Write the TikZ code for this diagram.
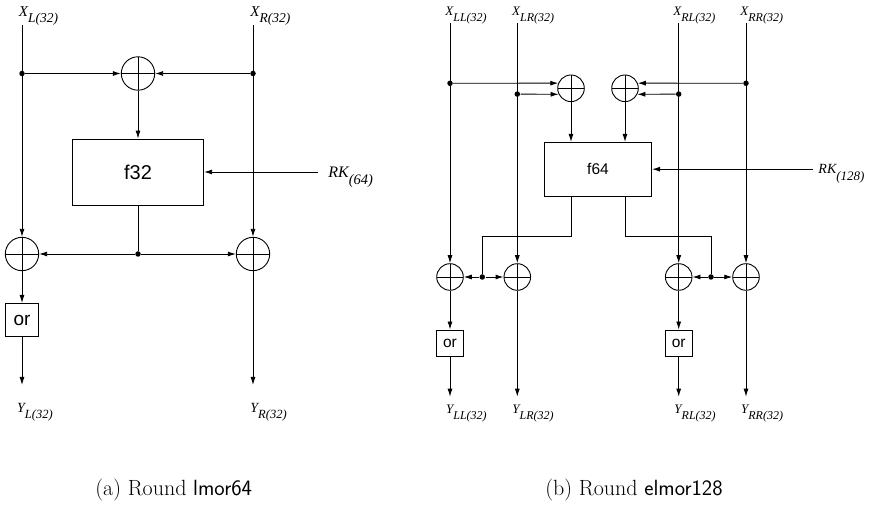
\documentclass[tikz,border=0pt]{standalone}
\usepackage{fontspec}
\newfontfamily\lblfont{Liberation Serif}
\newfontfamily\boxfont{Liberation Sans}
\usetikzlibrary{arrows.meta,calc}
\newcommand\mylab[5]{{\lblfont\itshape\fontsize{#3}{#3}\selectfont #1\raisebox{-#5}{\fontsize{#4}{#4}\selectfont #2}}}
\begin{document}
\begin{tikzpicture}[x=1pt,y=-1pt,line width=0.9pt,
  arr/.style={-{Latex[length=8pt,width=5pt]}},
  xorbase/.style={circle,draw,inner sep=0pt,
    path picture={\draw[line width=0.8pt] (path picture bounding box.north) -- (path picture bounding box.south)
      (path picture bounding box.west) -- (path picture bounding box.east);}},
  xorA/.style={xorbase,minimum size=33.4pt},
  xorB/.style={xorbase,minimum size=26.6pt},
  dotn/.style={circle,fill,inner sep=0pt,minimum size=5.5pt},
  fbox/.style={draw,line width=0.8pt,inner sep=0pt,font=\boxfont},
  lbl/.style={inner sep=0pt,anchor=base west},
  captext/.style={inner sep=0pt,anchor=base west,font=\fontsize{22}{22}\selectfont}]
\useasboundingbox (0,0) rectangle (871,510);
% ---------------- (a) ----------------
\node[lbl] (xl) at (18.5,16.7) {\mylab{X}{L(32)}{15}{13.5}{6pt}};
\node[lbl] (xr) at (250,16.7) {\mylab{X}{R(32)}{15}{13.5}{6pt}};
\coordinate (inL) at (22,25);
\coordinate (inR) at (253,25);
\node[xorA] (t) at (138,73.5) {};
\node[dotn] (dl) at (22,73.5) {};
\node[dotn] (dr) at (253,73.5) {};
\node[fbox,minimum width=131.5pt,minimum height=66pt,font=\boxfont\fontsize{20}{20}\selectfont] (f) at (138,172) {f32};
\coordinate (rk) at (318,172);
\node[lbl] (rkl) at (328,178) {\mylab{RK}{(64)}{16}{14.5}{7pt}};
\node[xorA] (bl) at (22,254) {};
\node[xorA] (br) at (253,254) {};
\node[dotn] (dm) at (138,254) {};
\node[fbox,minimum width=33.3pt,minimum height=33.3pt,font=\boxfont\fontsize{19}{19}\selectfont] (orl) at (22,320) {or};
\coordinate (outL) at (22,385);
\coordinate (outR) at (253,385);
\node[lbl] (yl) at (16.7,412.7) {\mylab{Y}{L(32)}{14}{12.5}{6pt}};
\node[lbl] (yr) at (250,412.7) {\mylab{Y}{R(32)}{14}{12.5}{6pt}};
\draw[arr] (inL) -- (bl);
\draw[arr] (inR) -- (br);
\draw[arr] (dl) -- (t);
\draw[arr] (dr) -- (t);
\draw[arr] (t) -- (f);
\draw[arr] (rk) -- (rk -| f.east);
\draw (f) -- (dm);
\draw[arr] (dm) -- (bl);
\draw[arr] (dm) -- (br);
\draw[arr] (bl) -- (orl);
\draw[arr] (orl) -- (outL);
\draw[arr] (br) -- (outR);
% ---------------- (b) ----------------
\node[lbl] (xll) at (445,15.7) {\mylab{X}{LL(32)}{13}{12}{6pt}};
\node[lbl] (xlr) at (511.7,15.7) {\mylab{X}{LR(32)}{13}{12}{6pt}};
\node[lbl] (xrl) at (673,15.7) {\mylab{X}{RL(32)}{13}{12}{6pt}};
\node[lbl] (xrr) at (740,15.7) {\mylab{X}{RR(32)}{13}{12}{6pt}};
\coordinate (inLL) at (450,23);
\coordinate (inLR) at (517.3,23);
\coordinate (inRL) at (678.7,23);
\coordinate (inRR) at (746,23);
\node[xorB] (tl) at (571,88.3) {};
\node[xorB] (tr) at (625,88.3) {};
\node[dotn] (d1) at (450,83.3) {};
\node[dotn] (d2) at (517.3,94.1) {};
\node[dotn] (d3) at (678.7,94.1) {};
\node[dotn] (d4) at (746,83.3) {};
\node[fbox,minimum width=107.4pt,minimum height=53.7pt,font=\boxfont\fontsize{15.5}{15.5}\selectfont] (g) at (598,169.2) {f64};
\coordinate (rk2) at (813,169.2);
\node[lbl] (rkl2) at (818,174) {\mylab{RK}{(128)}{14}{13}{7pt}};
\node[xorB] (bLL) at (450,277) {};
\node[xorB] (bLR) at (517.3,277) {};
\node[xorB] (bRL) at (678.7,277) {};
\node[xorB] (bRR) at (746,277) {};
\node[dotn] (e1) at (482.3,277) {};
\node[dotn] (e2) at (711,277) {};
\node[fbox,minimum width=27.3pt,minimum height=26.7pt,font=\boxfont\fontsize{15.5}{15.5}\selectfont] (or1) at (450,343.3) {or};
\node[fbox,minimum width=27.3pt,minimum height=26.7pt,font=\boxfont\fontsize{15.5}{15.5}\selectfont] (or2) at (678.7,343.3) {or};
\coordinate (oLL) at (450,396.7);
\coordinate (oLR) at (517.3,396.7);
\coordinate (oRL) at (678.7,396.7);
\coordinate (oRR) at (746,396.7);
\node[lbl] (yll) at (445.7,414) {\mylab{Y}{LL(32)}{13}{12}{6pt}};
\node[lbl] (ylr) at (512,414) {\mylab{Y}{LR(32)}{13}{12}{6pt}};
\node[lbl] (yrl) at (674,414) {\mylab{Y}{RL(32)}{13}{12}{6pt}};
\node[lbl] (yrr) at (740.7,414) {\mylab{Y}{RR(32)}{13}{12}{6pt}};
\draw[arr] (inLL) -- (bLL);
\draw[arr] (inLR) -- (bLR);
\draw[arr] (inRL) -- (bRL);
\draw[arr] (inRR) -- (bRR);
\draw[arr] (d1) -- (tl.158);
\draw[arr] (d2) -- (tl.206);
\draw[arr] (d4) -- (tr.22);
\draw[arr] (d3) -- (tr.-26);
\draw[arr] (tl) -- (tl |- g.north);
\draw[arr] (tr) -- (tr |- g.north);
\draw[arr] (rk2) -- (g.east);
\draw (tl |- g.south) -- ++(0,40.3) -| (e1);
\draw (tr |- g.south) -- ++(0,40.3) -| (e2);
\draw[arr] (e1) -- (bLL);
\draw[arr] (e1) -- (bLR);
\draw[arr] (e2) -- (bRL);
\draw[arr] (e2) -- (bRR);
\draw[arr] (bLL) -- (or1);
\draw[arr] (or1) -- (oLL);
\draw[arr] (bLR) -- (oLR);
\draw[arr] (bRL) -- (or2);
\draw[arr] (or2) -- (oRL);
\draw[arr] (bRR) -- (oRR);
% captions
\node[captext] (ca) at (95,496) {(a) Round \textsf{lmor64}};
\node[captext] (cb) at (545,496) {(b) Round \textsf{elmor128}};
\end{tikzpicture}
\end{document}
